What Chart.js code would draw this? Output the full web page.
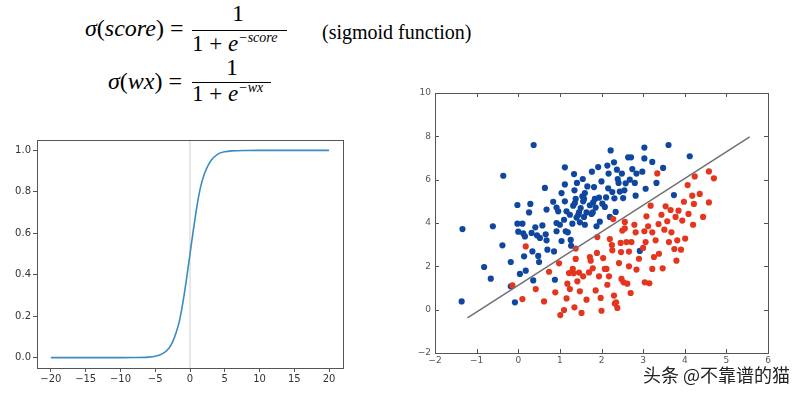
<!DOCTYPE html>
<html><head><meta charset="utf-8">
<script src="https://cdn.jsdelivr.net/npm/chart.js@4/dist/chart.umd.min.js"></script>
<style>
html,body{margin:0;padding:0;background:#fff;width:800px;height:396px;overflow:hidden;position:relative;}
.m{position:absolute;font-family:"Liberation Serif","DejaVu Serif",serif;color:#000;line-height:1;white-space:nowrap;}
.i{font-style:italic;}
.bar{position:absolute;height:1px;background:#000;}
.sup{font-size:14px;position:relative;top:-9px;}
#wm{position:absolute;left:643px;top:365px;font-family:"Noto Sans CJK SC",sans-serif;font-size:18px;color:#222;white-space:nowrap;line-height:1;
text-shadow:0 0 2px #fff,0 0 2px #fff,1px 1px 1px #fff;}
.cv{position:absolute;}
</style></head>
<body>
<!-- formula 1 -->
<div class="m" style="left:85px;top:16px;font-size:24px;"><span class="i">σ</span>(<span class="i">score</span>) =</div>
<div class="m" style="left:232px;top:1px;font-size:24px;">1</div>
<div class="bar" style="left:192px;top:30px;width:95px;"></div>
<div class="m" style="left:192px;top:32px;font-size:23px;">1 + <span class="i">e</span><span class="sup i">−score</span></div>
<div class="m" style="left:322px;top:22px;font-size:20px;">(sigmoid function)</div>
<!-- formula 2 -->
<div class="m" style="left:108px;top:69px;font-size:24px;"><span class="i">σ</span>(<span class="i">wx</span>) =</div>
<div class="m" style="left:226px;top:55px;font-size:24px;">1</div>
<div class="bar" style="left:192px;top:82px;width:79px;"></div>
<div class="m" style="left:192px;top:82px;font-size:23px;">1 + <span class="i">e</span><span class="sup i">−wx</span></div>

<div class="cv" style="left:0px;top:130px;width:360px;height:266px;"><canvas id="c1"></canvas></div>
<div class="cv" style="left:405px;top:83px;width:380px;height:290px;"><canvas id="c2"></canvas></div>
<div id="wm">头条 @不靠谱的猫</div>

<script>
// ---- sigmoid chart data ----
const sigX = [-20,-15,-10,-8,-6,-5,-4,-3,-2.5,-2,-1.5,-1,-0.5,0,0.5,1,1.5,2,2.5,3,4,5,6,8,10,15,20];
const sigY = [0,0,0,0.0003,0.0025,0.007,0.018,0.047,0.076,0.12,0.18,0.27,0.38,0.5,0.62,0.73,0.82,0.88,0.92,0.95,0.982,0.993,0.9975,0.9997,1,1,1];
const vlineX = [0,0];
const vlineY = [-0.05,1.05];
const sigXTicks = [-20,-15,-10,-5,0,5,10,15,20];
const sigYTicks = [0,0.2,0.4,0.6,0.8,1.0];

// ---- scatter chart data ----
const blueX = [-1.34,-1.36,-0.82,-0.66,-0.61,-0.36,-0.38,-0.18,-0.18,-0.08,0.37,-0.02,-0.02,0.10,0.0,0.12,0.16,0.04,0.18,0.14,0.26,0.29,0.32,0.34,0.36,0.41,0.45,0.48,0.50,0.52,0.58,0.64,0.66,0.68,0.68,0.70,0.84,0.86,0.88,0.92,0.92,0.92,0.96,1.0,1.04,1.04,1.10,1.12,1.12,1.12,1.14,1.16,1.19,1.24,1.26,1.27,1.30,1.32,1.34,1.35,1.36,1.38,1.40,1.41,1.44,1.46,1.48,1.50,1.54,1.55,1.56,1.58,1.58,1.60,1.60,1.64,1.66,1.72,1.76,1.79,1.80,1.77,1.82,1.84,1.86,1.88,1.92,1.94,1.96,2.0,2.02,2.08,2.11,2.14,2.16,2.17,2.20,2.22,2.26,2.30,2.31,2.34,2.37,2.39,2.41,2.44,2.49,2.52,2.55,2.58,2.64,2.71,2.68,2.74,2.80,2.82,2.84,2.92,2.98,3.03,3.03,3.06,3.22,3.32,3.48,3.61,3.74,4.12];
const blueY = [3.72,0.38,1.97,1.43,3.85,6.18,2.97,2.2,1.08,0.34,7.6,4.83,3.97,3.97,3.6,3.52,3.38,1.65,1.8,2.46,4.49,4.88,3.54,2.69,1.35,3.8,3.43,2.48,2.2,3.31,3.89,5.62,3.48,3.2,4.62,2.77,4.98,2.69,1.38,4.71,4.0,3.62,4.54,3.92,3.17,5.38,4.15,6.57,5.78,5.0,3.62,4.54,3.57,4.38,3.22,2.95,3.97,4.8,6.26,5.51,4.92,5.11,4.25,5.85,4.37,4.49,4.03,4.69,5.23,6.03,5.0,5.11,4.28,3.92,5.38,4.49,5.69,4.82,4.42,4.49,4.95,6.37,5.66,5.11,4.71,3.85,6.58,5.17,4.06,5.92,4.89,4.74,5.18,6.65,5.6,6.28,4.28,7.35,5.43,6.8,5.14,4.51,6.46,6.03,5.85,5.45,6.28,5.15,5.51,5.83,7.03,7.03,6.0,6.49,5.85,5.26,6.28,2.71,6.37,7.48,6.98,5.58,6.82,5.85,6.54,7.6,5.29,7.08];
const redX = [-0.14,0.18,0.10,0.42,0.62,0.74,0.89,0.98,1.01,1.10,1.16,1.18,1.22,1.24,1.31,1.33,1.35,1.38,1.38,1.42,1.46,1.48,1.52,1.56,1.64,1.70,1.72,1.74,1.79,1.86,1.89,1.90,1.94,1.98,2.00,2.04,2.08,2.12,2.14,2.18,2.20,2.25,2.26,2.28,2.30,2.32,2.35,2.38,2.42,2.46,2.47,2.48,2.50,2.53,2.56,2.56,2.60,2.62,2.66,2.66,2.70,2.72,2.79,2.82,2.84,2.90,3.00,3.03,3.06,3.04,3.08,3.12,3.15,3.18,3.22,3.22,3.26,3.30,3.34,3.37,3.38,3.44,3.47,3.51,3.54,3.58,3.62,3.66,3.68,3.75,3.78,3.80,3.82,3.85,3.91,3.94,3.98,4.01,4.07,4.09,4.18,4.20,4.22,4.24,4.36,4.44,4.58,4.58,4.70];
const redY = [1.12,2.92,0.49,0.95,0.38,1.75,0.8,2.14,-0.25,-0.02,0.52,1.2,1.69,0.95,1.88,1.68,0.11,2.82,2.34,1.31,1.71,0.85,-0.15,1.54,0.46,1.72,2.43,2.26,1.91,0.89,2.62,3.35,1.54,0.54,-0.05,2.38,1.88,1.88,1.15,1.54,3.26,2.98,2.74,4.18,0.65,0.28,0.34,0.08,2.15,3.08,2.66,1.42,3.65,1.26,4.05,3.75,3.12,1.2,2.0,2.68,0.77,3.12,3.92,3.57,1.85,2.35,2.85,3.62,3.12,1.26,4.31,3.85,1.22,4.8,3.57,1.88,2.43,3.2,6.29,3.95,2.58,4.38,1.91,3.69,4.77,4.08,3.12,4.6,3.57,2.8,4.28,2.26,3.2,4.57,2.77,4.11,4.98,3.28,5.75,4.42,5.26,3.92,4.88,6.15,5.34,4.28,6.38,4.95,6.06];
const lineX = [-1.22,5.56];
const lineY = [-0.38,7.97];
const scXTicks = [-2,-1,0,1,2,3,4,5,6];
const scYTicks = [-2,0,2,4,6,8,10];

const pts = (xs, ys) => xs.slice(0, Math.min(xs.length, ys.length)).map((x, i) => ({x, y: ys[i]}));
const fmt = v => String(v).replace('-', '\u2212');
const fmt1 = v => Number(v).toFixed(1).replace('-', '\u2212');
const setTicks = arr => scale => { scale.ticks = arr.map(v => ({value: v})); };

const framePlugin = {
  id: 'frame',
  afterDatasetsDraw(chart, args, opts) {
    const {ctx, chartArea: a} = chart;
    ctx.save();
    ctx.strokeStyle = opts.color || '#444';
    ctx.lineWidth = 1;
    ctx.strokeRect(Math.round(a.left) + 0.5, Math.round(a.top) + 0.5, Math.round(a.right - a.left), Math.round(a.bottom - a.top));
    if (opts.inner) {
      const xs = chart.scales.x, ys = chart.scales.y, L = 4;
      ctx.beginPath();
      xs.ticks.forEach(t => {
        const p = Math.round(xs.getPixelForValue(t.value)) + 0.5;
        ctx.moveTo(p, a.bottom); ctx.lineTo(p, a.bottom - L);
        ctx.moveTo(p, a.top); ctx.lineTo(p, a.top + L);
      });
      ys.ticks.forEach(t => {
        const p = Math.round(ys.getPixelForValue(t.value)) + 0.5;
        ctx.moveTo(a.left, p); ctx.lineTo(a.left + L, p);
        ctx.moveTo(a.right, p); ctx.lineTo(a.right - L, p);
      });
      ctx.stroke();
    }
    ctx.restore();
  }
};
Chart.register(framePlugin);

// ---- left chart: sigmoid ----
new Chart(document.getElementById('c1'), {
  type: 'scatter',
  data: {
    datasets: [
      {data: pts(sigX, sigY), showLine: true, borderColor: '#3a8cc0', borderWidth: 1.6, pointRadius: 0, cubicInterpolationMode: 'monotone', fill: false, order: 1},
      {data: pts(vlineX, vlineY), showLine: true, borderColor: '#cfcfcf', borderWidth: 1, pointRadius: 0, fill: false, order: 2}
    ]
  },
  options: {
    responsive: true, maintainAspectRatio: false, animation: false,
    layout: {padding: {top: 10, right: 17, left: 0, bottom: 0}},
    plugins: {legend: {display: false}, tooltip: {enabled: false}, frame: {color: '#555'}},
    scales: {
      x: {
        type: 'linear', min: -22, max: 22,
        afterBuildTicks: setTicks(sigXTicks),
        afterFit: s => { s.height = 28; },
        grid: {drawOnChartArea: false, drawTicks: true, tickLength: 4, color: '#555'},
        border: {display: true, color: '#555'},
        ticks: {font: {family: 'DejaVu Sans', size: 10}, color: '#333', padding: 1, maxRotation: 0, callback: v => fmt(v)}
      },
      y: {
        type: 'linear', min: -0.05, max: 1.05,
        afterBuildTicks: setTicks(sigYTicks),
        afterFit: s => { s.width = 37; },
        grid: {drawOnChartArea: false, drawTicks: true, tickLength: 4, color: '#555'},
        border: {display: true, color: '#555'},
        ticks: {font: {family: 'DejaVu Sans', size: 10}, color: '#333', padding: 2, callback: v => fmt1(v)}
      }
    }
  }
});

// ---- right chart: scatter with decision line ----
new Chart(document.getElementById('c2'), {
  type: 'scatter',
  data: {
    datasets: [
      {data: pts(lineX, lineY), showLine: true, borderColor: '#707070', borderWidth: 1.5, pointRadius: 0, fill: false, order: 0},
      {data: pts(blueX, blueY), backgroundColor: '#0f47a0', borderColor: '#0f47a0', borderWidth: 0, pointRadius: 3.1, order: 2},
      {data: pts(redX, redY), backgroundColor: '#e4351f', borderColor: '#e4351f', borderWidth: 0, pointRadius: 3.1, order: 1}
    ]
  },
  options: {
    responsive: true, maintainAspectRatio: false, animation: false,
    layout: {padding: {top: 10, right: 17, left: 0, bottom: 0}},
    plugins: {legend: {display: false}, tooltip: {enabled: false}, frame: {color: '#555', inner: true}},
    scales: {
      x: {
        type: 'linear', min: -2, max: 6,
        afterBuildTicks: setTicks(scXTicks),
        afterFit: s => { s.height = 20; },
        grid: {display: false, drawOnChartArea: false, drawTicks: false},
        border: {display: false},
        ticks: {font: {family: 'DejaVu Sans', size: 9}, color: '#555', padding: 2, maxRotation: 0, callback: v => fmt(v)}
      },
      y: {
        type: 'linear', min: -2, max: 10,
        afterBuildTicks: setTicks(scYTicks),
        afterFit: s => { s.width = 30; },
        grid: {display: false, drawOnChartArea: false, drawTicks: false},
        border: {display: false},
        ticks: {font: {family: 'DejaVu Sans', size: 9}, color: '#555', padding: 4, callback: v => fmt(v)}
      }
    }
  }
});
</script>
</body></html>
